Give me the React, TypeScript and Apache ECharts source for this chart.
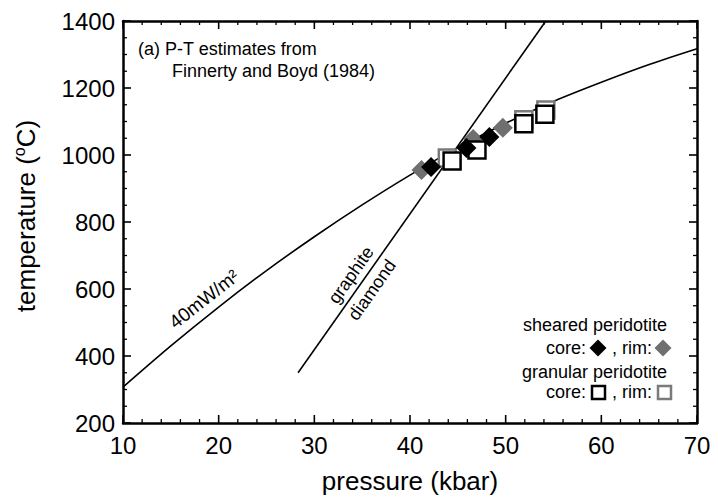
import React, { useEffect, useRef } from "react";
import * as echarts from "echarts";

// 40 mW/m2 geotherm (pressure kbar, temperature °C)
const geoP = [10, 15, 20, 25, 30, 35, 40, 45, 50, 55, 60, 65, 70];
const geoT = [307, 430, 546, 655, 756, 851, 940, 1022, 1095, 1160, 1217, 1270, 1317];

// graphite-diamond boundary
const gdP = [28.3, 54.2];
const gdT = [350, 1400];

// P-T estimates
const shearedCoreP = [42.2, 45.9, 48.3];
const shearedCoreT = [964, 1021, 1054];
const shearedRimP = [41.2, 46.6, 49.7];
const shearedRimT = [955, 1048, 1081];
const granularCoreP = [44.4, 47.0, 51.9, 54.1];
const granularCoreT = [982, 1015, 1093, 1122];
const granularRimP = [43.9, 51.9, 54.2];
const granularRimT = [991, 1105, 1134];

// ticks
const xTicks = [10, 20, 30, 40, 50, 60, 70];
const yTicks = [200, 400, 600, 800, 1000, 1200, 1400];
const xMinorTicks = [12, 14, 16, 18, 22, 24, 26, 28, 32, 34, 36, 38, 42, 44, 46, 48, 52, 54, 56, 58, 62, 64, 66, 68];
const yMinorTicks = [250, 300, 350, 450, 500, 550, 650, 700, 750, 850, 900, 950, 1050, 1100, 1150, 1250, 1300, 1350];

const FONT = "'Liberation Sans', Arial, Helvetica, sans-serif";
const GRAY = "#6f6f6f";
const GRAY_EDGE = "#7a7a7a";
const MAJOR_LEN = 8;
const MINOR_LEN = 4;
const MAJOR_W = 1.6;
const MINOR_W = 1.3;

const zip = (a: number[], b: number[]) => a.map((v, i) => [v, b[i]]);

export default function App() {
  const ref = useRef<HTMLDivElement>(null);
  useEffect(() => {
    if (!ref.current) return;
    const chart = echarts.init(ref.current, null, { renderer: "svg" });
    const xMin = xTicks[0];
    const xMax = xTicks[xTicks.length - 1];
    const yMin = yTicks[0];
    const yMax = yTicks[yTicks.length - 1];

    const axisBase = (pos: string, label: any) => ({
      type: "value",
      position: pos,
      axisLine: { show: true, onZero: false, lineStyle: { color: "#000", width: 2.5 } },
      splitLine: { show: false },
      axisTick: { show: false },
      minorTick: { show: false },
      axisLabel: label,
    });
    const tickLabel = (margin: number) => ({
      show: true,
      fontSize: 24,
      fontFamily: FONT,
      color: "#000",
      margin,
      formatter: (v: number) => String(v),
    });

    // inward tick marks drawn as thin rect symbols placed through the axes' scales
    const tickSeries = (data: number[][], size: number[], offset: number[]) => ({
      type: "scatter",
      data,
      symbol: "rect",
      symbolSize: size,
      symbolOffset: offset,
      clip: false,
      silent: true,
      itemStyle: { color: "#000", opacity: 1 },
      z: 6,
    });
    const tickMarks = [
      tickSeries(xTicks.map((v) => [v, yMin]), [MAJOR_W, MAJOR_LEN], [0, -MAJOR_LEN / 2]),
      tickSeries(xTicks.map((v) => [v, yMax]), [MAJOR_W, MAJOR_LEN], [0, MAJOR_LEN / 2]),
      tickSeries(xMinorTicks.map((v) => [v, yMin]), [MINOR_W, MINOR_LEN], [0, -MINOR_LEN / 2]),
      tickSeries(xMinorTicks.map((v) => [v, yMax]), [MINOR_W, MINOR_LEN], [0, MINOR_LEN / 2]),
      tickSeries(yTicks.map((v) => [xMin, v]), [MAJOR_LEN, MAJOR_W], [MAJOR_LEN / 2, 0]),
      tickSeries(yTicks.map((v) => [xMax, v]), [MAJOR_LEN, MAJOR_W], [-MAJOR_LEN / 2, 0]),
      tickSeries(yMinorTicks.map((v) => [xMin, v]), [MINOR_LEN, MINOR_W], [MINOR_LEN / 2, 0]),
      tickSeries(yMinorTicks.map((v) => [xMax, v]), [MINOR_LEN, MINOR_W], [-MINOR_LEN / 2, 0]),
    ];

    const txt = (text: string, x: number, y: number, align: string, size = 18, extra: any = {}) => ({
      type: "text",
      x,
      y,
      ...extra,
      style: { text, fontSize: size, fontFamily: FONT, fill: "#000", align, verticalAlign: "middle" },
    });
    const decorations: any[] = [
      txt("(a) P-T estimates from", 138, 49, "left"),
      txt("Finnerty and Boyd (1984)", 172, 71, "left"),
      txt("40mW/m²", 204, 299, "center", 19, { rotation: (38 * Math.PI) / 180 }),
      txt("graphite", 351, 275, "center", 18, { rotation: (55 * Math.PI) / 180 }),
      txt("diamond", 372, 290, "center", 18, { rotation: (55 * Math.PI) / 180 }),
      txt("sheared peridotite", 667, 325, "right"),
      txt("core:", 586, 348, "right"),
      txt(", rim:", 652, 348, "right"),
      txt("granular peridotite", 667, 372, "right"),
      txt("core:", 586, 392, "right"),
      txt(", rim:", 652, 392, "right"),
      {
        type: "polygon",
        shape: { points: [[598, 339.5], [606.5, 348], [598, 356.5], [589.5, 348]] },
        style: { fill: "#000" },
      },
      {
        type: "polygon",
        shape: { points: [[663, 339.5], [671.5, 348], [663, 356.5], [654.5, 348]] },
        style: { fill: GRAY },
      },
      {
        type: "rect",
        shape: { x: 592, y: 386, width: 13, height: 13 },
        style: { fill: "#fff", stroke: "#000", lineWidth: 2.5 },
      },
      {
        type: "rect",
        shape: { x: 658, y: 386, width: 13, height: 13 },
        style: { fill: "#fff", stroke: GRAY_EDGE, lineWidth: 2.5 },
      },
      {
        type: "text",
        x: 26,
        y: 216,
        rotation: Math.PI / 2,
        style: {
          text: "temperature ({s|o}C)",
          fontSize: 26,
          fontFamily: FONT,
          fill: "#000",
          align: "center",
          verticalAlign: "middle",
          rich: { s: { fontSize: 16, fontFamily: FONT, fill: "#000", verticalAlign: "top", lineHeight: 30 } },
        },
      },
      txt("pressure (kbar)", 410, 481, "center", 26),
    ];

    const xRange = { min: xMin, max: xMax, interval: 10 };
    const yRange = { min: yMin, max: yMax, interval: 200 };
    const option: any = {
      animation: false,
      backgroundColor: "#fff",
      grid: { left: 123, right: 21, top: 21, bottom: 77, containLabel: false },
      xAxis: [
        { ...axisBase("bottom", tickLabel(10)), ...xRange },
        { ...axisBase("top", { show: false }), ...xRange },
      ],
      yAxis: [
        { ...axisBase("left", tickLabel(8)), ...yRange },
        { ...axisBase("right", { show: false }), ...yRange },
      ],
      series: [
        {
          type: "line",
          data: zip(geoP, geoT),
          smooth: 0.3,
          showSymbol: false,
          symbol: "none",
          lineStyle: { color: "#000", width: 1.6 },
          z: 1,
        },
        {
          type: "line",
          data: zip(gdP, gdT),
          showSymbol: false,
          symbol: "none",
          lineStyle: { color: "#000", width: 1.6 },
          z: 1,
        },
        {
          type: "scatter",
          data: zip(granularRimP, granularRimT),
          symbol: "rect",
          symbolSize: 17,
          itemStyle: { color: "#fff", borderColor: GRAY_EDGE, borderWidth: 2.5, opacity: 1 },
          z: 2,
        },
        {
          type: "scatter",
          data: zip(shearedRimP, shearedRimT),
          symbol: "diamond",
          symbolSize: 20,
          itemStyle: { color: GRAY, opacity: 1 },
          z: 3,
        },
        {
          type: "scatter",
          data: zip(granularCoreP, granularCoreT),
          symbol: "rect",
          symbolSize: 17,
          itemStyle: { color: "#fff", borderColor: "#000", borderWidth: 2.5, opacity: 1 },
          z: 4,
        },
        {
          type: "scatter",
          data: zip(shearedCoreP, shearedCoreT),
          symbol: "diamond",
          symbolSize: 20,
          itemStyle: { color: "#000", opacity: 1 },
          z: 5,
        },
        ...tickMarks,
      ],
      graphic: decorations,
    };
    chart.setOption(option);
    return () => chart.dispose();
  }, []);
  return (
    <div
      ref={ref}
      style={{ position: "fixed", left: 0, top: 0, width: 718, height: 500, background: "#fff" }}
    />
  );
}
